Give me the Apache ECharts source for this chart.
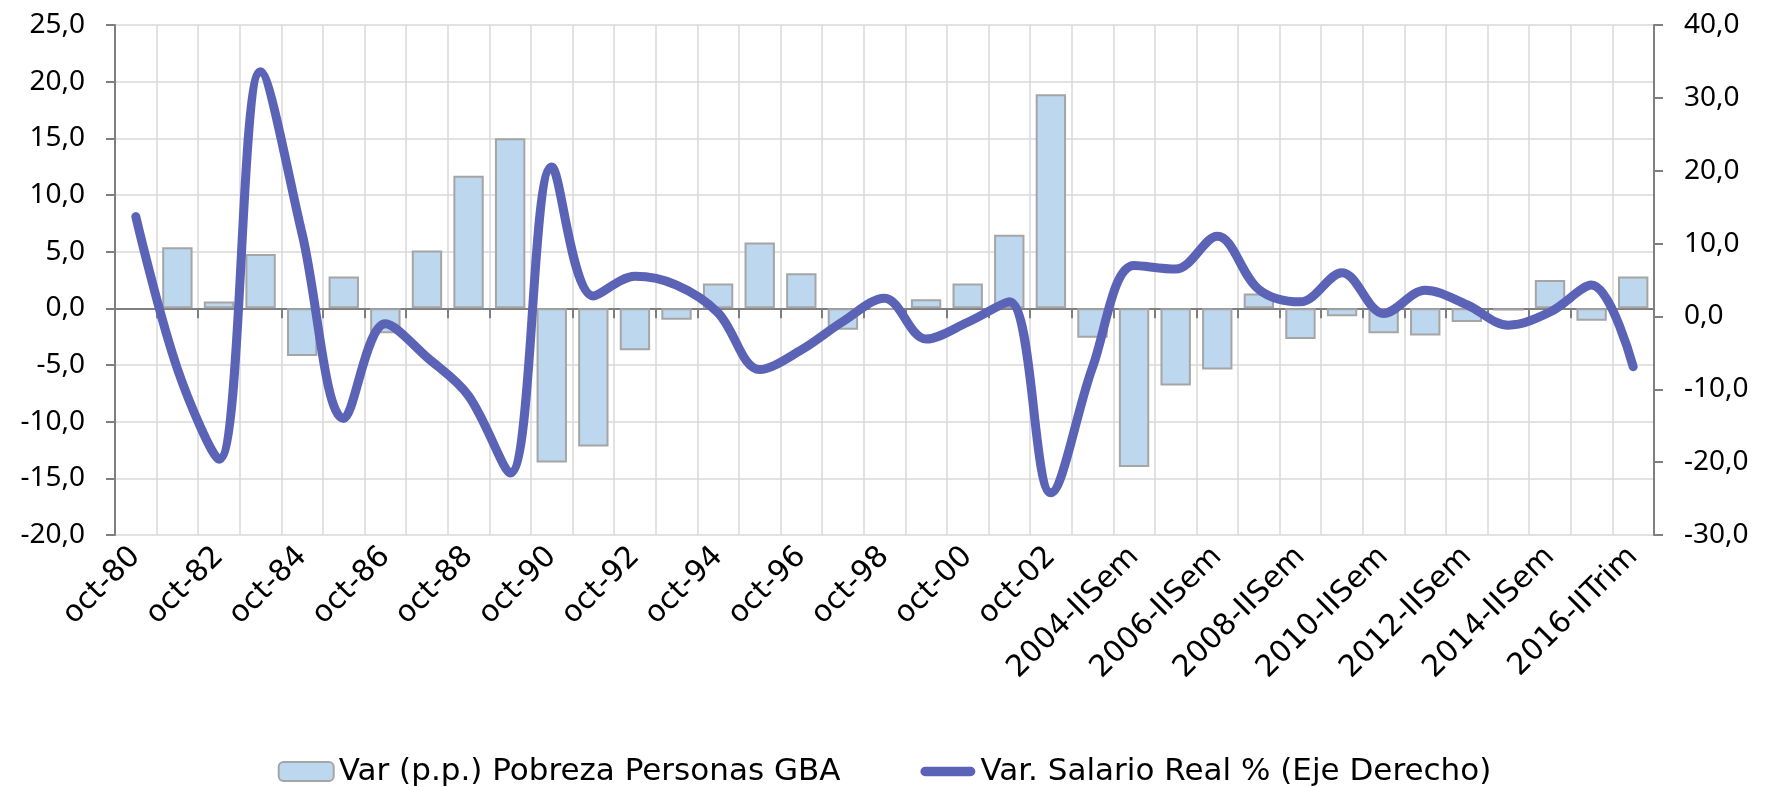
<!DOCTYPE html>
<html>
<head>
<meta charset="utf-8">
<script src="https://cdn.jsdelivr.net/npm/echarts@6/dist/echarts.min.js"></script>
<style>
  body { margin: 0; background: #fff; }
  #chart { width: 1769px; height: 787px; }
</style>
</head>
<body>
<div id="chart"></div>
<script>
var categories = [
  "oct-80", "oct-81", "oct-82", "oct-83", "oct-84", "oct-85", "oct-86", "oct-87",
  "oct-88", "oct-89", "oct-90", "oct-91", "oct-92", "oct-93", "oct-94", "oct-95",
  "oct-96", "oct-97", "oct-98", "oct-99", "oct-00", "oct-01", "oct-02",
  "2003-IISem", "2004-IISem", "2005-IISem", "2006-IISem", "2007-IISem", "2008-IISem",
  "2009-IISem", "2010-IISem", "2011-IISem", "2012-IISem", "2013-IISem", "2014-IISem",
  "2015-IISem", "2016-IITrim"
];

// Var (p.p.) Pobreza Personas GBA - eje izquierdo
var pobreza = [
  null, 5.4, 0.6, 4.8, -4.2, 2.8, -2.2, 5.1, 11.7, 15.0, -13.6, -12.2, -3.7,
  -1.0, 2.2, 5.8, 3.1, -1.9, -0.1, 0.8, 2.2, 6.5, 18.9, -2.6, -14.0, -6.8,
  -5.4, 1.3, -2.7, -0.7, -2.2, -2.4, -1.2, -0.2, 2.5, -1.1, 2.8
];

// Var. Salario Real % - eje derecho
var salario = [
  13.7, -7.2, -19.6, 33.6, 11.3, -14.0, -1.0, -5.6, -10.9, -21.5, 20.5, 2.8,
  5.5, 4.3, 0.5, -7.3, -4.6, -0.7, 2.5, -3.1, -0.8, 2.0, -24.2, -7.0, 7.0,
  6.5, 11.0, 3.7, 2.0, 6.0, 0.4, 3.6, 1.6, -1.2, 0.6, 4.3, -6.9
];

var leftTicks = { min: -20, max: 25, step: 5 };
var rightTicks = { min: -30, max: 40, step: 10 };

var font = "Noto Sans";
var wideFont = "DejaVu Sans";
var axisGray = "#7f7f7f";
var gridGray = "#d9d9d9";
var lineBlue = "#5b63b6";

function fmt(v) {
  return v.toFixed(1).replace(".", ",");
}

var myChart = echarts.init(document.getElementById("chart"));

var option = {
  animation: false,
  textStyle: { fontFamily: font },
  grid: {
    left: 115,
    right: 115,
    top: 25,
    bottom: 252,
  },
  legend: {
    top: 751,
    left: "center",
    itemWidth: 55,
    itemHeight: 19,
    itemGap: 80,
    textStyle: { fontSize: 31, color: "#000", fontFamily: wideFont },
    data: [
      { name: "Var (p.p.) Pobreza Personas GBA" },
      {
        name: "Var. Salario Real % (Eje Derecho)",
        icon: "path://M5,0 L53,0 A5,5 0 0 1 53,10 L5,10 A5,5 0 0 1 5,0 Z",
      },
    ],
  },
  xAxis: [
    {
      type: "category",
      data: categories,
      position: "bottom",
      axisLine: { show: false, onZero: false },
      axisTick: { show: false },
      axisLabel: {
        interval: 1,
        rotate: 45,
        margin: 17,
        fontSize: 30,
        color: "#000",
        fontFamily: wideFont,
      },
      splitLine: {
        show: true,
        interval: 0,
        lineStyle: { color: gridGray, width: 1.5 },
      },
    },
    {
      type: "category",
      data: categories,
      position: "bottom",
      axisLine: {
        show: true,
        onZero: true,
        onZeroAxisIndex: 0,
        lineStyle: { color: axisGray, width: 2 },
      },
      axisTick: {
        show: true,
        interval: 0,
        length: 10,
        lineStyle: { color: axisGray, width: 2 },
      },
      axisLabel: { show: false },
      splitLine: { show: false },
    },
  ],
  yAxis: [
    {
      type: "value",
      position: "left",
      min: leftTicks.min,
      max: leftTicks.max,
      interval: leftTicks.step,
      axisLine: { show: true, lineStyle: { color: axisGray, width: 2 } },
      axisTick: { show: true, length: 9, lineStyle: { color: axisGray, width: 2 } },
      axisLabel: {
        formatter: fmt,
        fontSize: 28,
        margin: 30,
        color: "#000",
        fontFamily: font,
      },
      splitLine: { show: true, lineStyle: { color: gridGray, width: 1.5 } },
    },
    {
      type: "value",
      position: "right",
      min: rightTicks.min,
      max: rightTicks.max,
      interval: rightTicks.step,
      axisLine: { show: true, lineStyle: { color: axisGray, width: 2 } },
      axisTick: { show: true, length: 9, lineStyle: { color: axisGray, width: 2 } },
      axisLabel: {
        formatter: fmt,
        fontSize: 28,
        margin: 30,
        color: "#000",
        fontFamily: font,
      },
      splitLine: { show: false },
    },
  ],
  series: [
    {
      name: "Var (p.p.) Pobreza Personas GBA",
      type: "bar",
      xAxisIndex: 0,
      yAxisIndex: 0,
      data: pobreza,
      barCategoryGap: "27%",
      itemStyle: {
        color: "#bdd7ee",
        borderColor: "#a5a5a5",
        borderWidth: 2,
      },
      z: 2,
    },
    {
      name: "Var. Salario Real % (Eje Derecho)",
      type: "line",
      xAxisIndex: 0,
      yAxisIndex: 1,
      data: salario,
      smooth: 0.35,
      symbol: "none",
      lineStyle: { color: lineBlue, width: 9, cap: "round", join: "round" },
      itemStyle: { color: lineBlue },
      z: 4,
    },
  ],
};

myChart.setOption(option);
</script>
</body>
</html>
